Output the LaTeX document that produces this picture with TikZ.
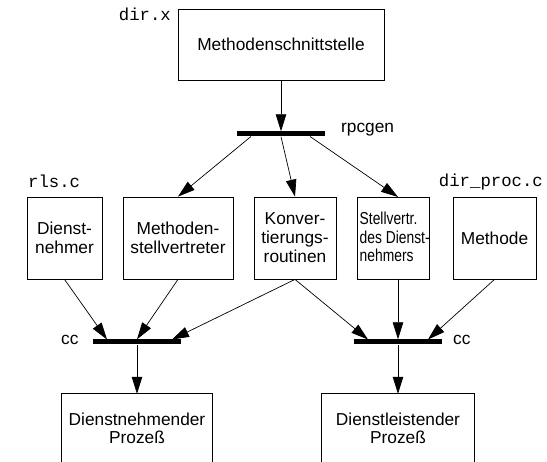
\documentclass[tikz,border=0pt]{standalone}
\usepackage{fontspec}
\setmainfont{Liberation Sans}
\setmonofont{Liberation Mono}
\newfontfamily\narrowfont[FakeStretch=0.8]{Liberation Sans}
\usetikzlibrary{arrows.meta,calc}
\begin{document}
\begin{tikzpicture}[x=1pt,y=-1pt,
  box/.style={draw, line width=0.8pt, inner sep=0pt, align=center, font=\fontsize{17.3}{19}\selectfont},
  openbox/.style={inner sep=0pt, align=center, font=\fontsize{17.3}{18}\selectfont},
  lbl/.style={inner sep=0pt, font=\fontsize{17.3}{19}\selectfont},
  code/.style={inner sep=0pt, font=\ttfamily\fontsize{17.3}{19}\selectfont},
  bar/.style={fill=black, inner sep=0pt, minimum height=5pt, minimum width=88pt},
  arr/.style={line width=0.7pt, -{Triangle[length=17pt,width=10.5pt]}},
  con/.style={line width=0.7pt}]
\useasboundingbox (0,0) rectangle (547,462);
% top
\node[box, minimum width=206pt, minimum height=71pt] (top) at (281,44.5) {Methodenschnittstelle};
\node[code, anchor=base east] (dirx) at (171,21) {dir.x};
\node[bar] (rpcbar) at (281,134) {};
\node[lbl, anchor=base west] (rpcgen) at (341,133) {rpcgen};
% row
\node[box, minimum width=75pt, minimum height=82pt] (dn) at (64.5,238) {Dienst-\\nehmer};
\node[box, minimum width=110pt, minimum height=82pt] (ms) at (178,238) {Methoden-\\stellvertreter};
\node[box, minimum width=82pt, minimum height=82pt] (kr) at (295,238) {Konver-\\tierungs-\\routinen};
\node[box, minimum width=72pt, minimum height=82pt] (sv) at (393,238) {};
\node[inner sep=0pt, anchor=west, align=left,
      font=\narrowfont\fontsize{17.3}{18.5}\selectfont] (svt) at (359.5,237) {Stellvertr.\\des Dienst-\\nehmers};
\node[box, minimum width=83pt, minimum height=82pt] (me) at (494.5,238) {Methode};
\node[code, anchor=base west] (rls) at (28,188) {rls.c};
\node[code, anchor=base east] (dproc) at (543,187) {dir\_proc.c};
% bars cc
\node[bar] (ccL) at (137,342) {};
\node[bar] (ccR) at (398,342) {};
\node[lbl, anchor=base west] (ccl) at (61,345) {cc};
\node[lbl, anchor=base west] (ccr) at (453,345) {cc};
% bottom boxes
\node[openbox, minimum width=151pt, minimum height=68pt] (pl) at (137,428) {Dienstnehmender\\Prozeß};
\node[openbox, minimum width=152pt, minimum height=68pt] (pr) at (398,428) {Dienstleistender\\Prozeß};
\draw[line width=0.8pt] (pl.south west) |- (pl.north east) -- (pl.south east);
\draw[line width=0.8pt] (pr.south west) |- (pr.north east) -- (pr.south east);
% coordinates
\coordinate (r1) at (251,136.5);
\coordinate (r3) at (310,136.5);
\coordinate (svin) at (398,197);
\coordinate (svout) at (398,279);
\coordinate (l1) at (107,339.5);
\coordinate (l3) at (172,339.5);
\coordinate (q1) at (368,339.5);
\coordinate (q3) at (428,339.5);
% connectors
\draw[arr] (top.south) -- (rpcbar.north);
\draw[arr] (r1) -- (ms.north);
\draw[arr] (rpcbar.south) -- (kr.north);
\draw[arr] (r3) -- (svin);
\draw[arr] (dn.south) -- (l1);
\draw[arr] (ms.south) -- (ccL.north);
\draw[arr] (kr.south) -- (l3);
\draw[arr] (kr.south) -- (q1);
\draw[arr] (svout) -- (ccR.north);
\draw[arr] (me.south) -- (q3);
\draw[arr] (ccL.south) -- (pl.north);
\draw[arr] (ccR.south) -- (pr.north);
\end{tikzpicture}
\end{document}
